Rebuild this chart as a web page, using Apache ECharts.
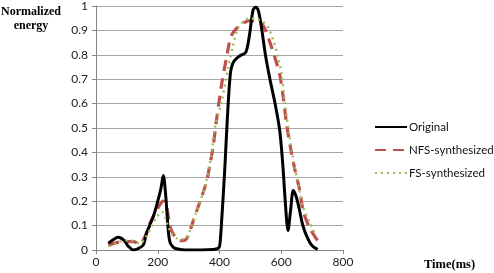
<!DOCTYPE html>
<html><head><meta charset="utf-8">
<script src="https://cdn.jsdelivr.net/npm/echarts@6/dist/echarts.min.js"></script>
<style>html,body{margin:0;padding:0;background:#fff}#c{width:494px;height:273px}</style>
</head><body><div id="c"></div>
<script>
const xTicks = [0, 200, 400, 600, 800];
const yTicks = [0, 0.1, 0.2, 0.3, 0.4, 0.5, 0.6, 0.7, 0.8, 0.9, 1];
const seriesNames = ['Original', 'NFS-synthesized', 'FS-synthesized'];

const origX = [40, 55, 72, 90, 105, 121, 135, 153, 164, 185, 200, 210, 218, 226, 234, 240, 250, 261, 280, 300, 340, 380, 396, 401, 407, 417, 425, 435, 445, 465, 485, 497, 509, 518, 526, 535, 550, 565, 580, 595, 605, 612, 622, 630, 639, 648, 658, 668, 678, 693, 705, 718];
const origY = [0.027, 0.042, 0.052, 0.04, 0.015, 0.0, 0.005, 0.02, 0.07, 0.135, 0.2, 0.25, 0.305, 0.22, 0.08, 0.03, 0.012, 0.005, 0.001, 0, 0, 0.002, 0.007, 0.02, 0.12, 0.33, 0.53, 0.72, 0.77, 0.795, 0.81, 0.88, 0.985, 0.995, 0.98, 0.92, 0.79, 0.69, 0.6, 0.49, 0.35, 0.217, 0.08, 0.16, 0.244, 0.22, 0.17, 0.11, 0.07, 0.03, 0.012, 0.003];

const nfsX = [40, 60, 88, 121, 142, 160, 175, 190, 202, 212, 218, 229, 240, 256, 272, 288, 299, 315, 337, 358, 369, 380, 390, 407, 423, 439, 466, 498, 520, 541, 558, 579, 595, 606, 617, 630, 644, 660, 671, 693, 720];
const nfsY = [0.02, 0.028, 0.034, 0.034, 0.025, 0.06, 0.11, 0.15, 0.176, 0.195, 0.2, 0.176, 0.095, 0.054, 0.038, 0.04, 0.06, 0.12, 0.2, 0.28, 0.35, 0.43, 0.53, 0.68, 0.79, 0.88, 0.92, 0.94, 0.94, 0.92, 0.87, 0.79, 0.72, 0.63, 0.52, 0.42, 0.33, 0.244, 0.16, 0.088, 0.034];

const fsX = [40, 60, 78, 110, 142, 160, 185, 200, 213, 225, 234, 245, 261, 278, 293, 304, 326, 353, 374, 385, 407, 428, 444, 460, 477, 498, 517, 536, 558, 574, 590, 601, 612, 625, 639, 655, 671, 693, 712];
const fsY = [0.015, 0.025, 0.034, 0.04, 0.027, 0.05, 0.11, 0.14, 0.156, 0.13, 0.095, 0.068, 0.048, 0.044, 0.048, 0.08, 0.16, 0.26, 0.39, 0.5, 0.61, 0.745, 0.84, 0.91, 0.935, 0.95, 0.945, 0.94, 0.91, 0.86, 0.79, 0.72, 0.6, 0.48, 0.37, 0.27, 0.176, 0.11, 0.06];

const zip = (xs, ys) => xs.map((x, i) => [x, ys[i]]);
const labelFont = {fontFamily: 'Lato, Liberation Sans, sans-serif', fontSize: 12, color: '#222'};

const chart = echarts.init(document.getElementById('c'), null, {renderer: 'canvas'});
chart.setOption({
  animation: false,
  backgroundColor: '#fff',
  grid: {left: 96, right: 151, top: 4, bottom: 23, containLabel: false},
  xAxis: {
    type: 'value', min: xTicks[0], max: xTicks[xTicks.length - 1], interval: 200,
    axisLine: {show: true, lineStyle: {color: '#868686', width: 1}},
    axisTick: {show: true, length: 4, lineStyle: {color: '#868686'}},
    axisLabel: Object.assign({margin: 6}, labelFont),
    splitLine: {show: false}
  },
  yAxis: {
    type: 'value', min: yTicks[0], max: yTicks[yTicks.length - 1], interval: 0.1,
    axisLine: {show: true, lineStyle: {color: '#868686', width: 1}},
    axisTick: {show: true, length: 4, lineStyle: {color: '#868686'}},
    axisLabel: Object.assign({margin: 8, formatter: v => String(Math.round(v * 10) / 10)}, labelFont),
    splitLine: {show: true, lineStyle: {color: '#a6a6a6', width: 1}}
  },
  legend: {
    orient: 'vertical', left: 374, top: 119, itemGap: 7, padding: 0,
    itemWidth: 32, itemHeight: 14,
    itemStyle: {opacity: 0},
    textStyle: {fontFamily: 'Lato, Liberation Sans, sans-serif', fontSize: 11.5, color: '#111', padding: [0, 0, 0, -3], lineHeight: 16},
    data: seriesNames
  },
  graphic: [
    {type: 'text', x: 31, y: 5, style: {text: 'Normalized\nenergy', textAlign: 'center', align: 'center', font: 'bold 12px "Liberation Serif", serif', fill: '#000', lineHeight: 14}},
    {type: 'text', x: 424, y: 258, style: {text: 'Time(ms)', font: 'bold 12.5px "Liberation Serif", serif', fill: '#000'}}
  ],
  series: [
    {name: seriesNames[0], type: 'line', data: zip(origX, origY), smooth: 0.3, showSymbol: false, symbol: 'none',
     lineStyle: {color: '#000', width: 3}, itemStyle: {color: '#000'}, z: 3},
    {name: seriesNames[1], type: 'line', data: zip(nfsX, nfsY), smooth: 0.3, showSymbol: false, symbol: 'none',
     lineStyle: {color: '#c0504d', width: 3.2, type: [11, 7]}, itemStyle: {color: '#c0504d'}, z: 2},
    {name: seriesNames[2], type: 'line', data: zip(fsX, fsY), smooth: 0.3, showSymbol: false, symbol: 'none',
     lineStyle: {color: '#9bbb59', width: 2.4, type: [2, 4]}, itemStyle: {color: '#9bbb59'}, z: 4}
  ]
});
</script></body></html>
